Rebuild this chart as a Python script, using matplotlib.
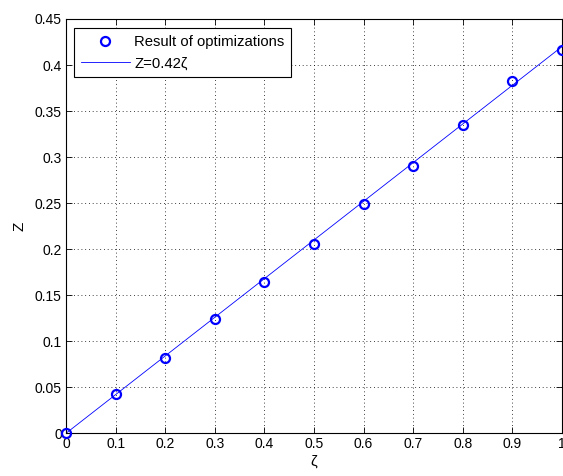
import matplotlib
matplotlib.use("Agg")
import matplotlib.pyplot as plt
import numpy as np

plt.rcParams["font.family"] = ["Liberation Sans", "DejaVu Sans"]

# optimisation results
zeta = [0.0, 0.1, 0.2, 0.3, 0.4, 0.5, 0.6, 0.7, 0.8, 0.9, 1.0]
z_opt = [0.0, 0.0424, 0.0814, 0.1244, 0.1647, 0.2061, 0.249, 0.2899,
         0.3353, 0.3825, 0.4166]
slope = 0.42
x_ticks = [0, 0.1, 0.2, 0.3, 0.4, 0.5, 0.6, 0.7, 0.8, 0.9, 1]
y_ticks = [0, 0.05, 0.1, 0.15, 0.2, 0.25, 0.3, 0.35, 0.4, 0.45]

fig = plt.figure(figsize=(5.63, 4.76), dpi=100)
ax = fig.add_axes([66 / 563, 42.7 / 476, 496 / 563, 414.3 / 476])

ax.plot(zeta, z_opt, "o", color="blue", markerfacecolor="none",
        markersize=6.5, markeredgewidth=1.6, clip_on=False, zorder=3,
        label="Result of optimizations")
line_x = np.array([0.0, 1.0])
ax.plot(line_x, slope * line_x, "-", color="blue", linewidth=0.6,
        label="Z=0.42ζ")

ax.set_xlim(0, 1)
ax.set_ylim(0, 0.45)
ax.set_xticks(x_ticks)
ax.set_yticks(y_ticks)
ax.set_xticklabels([f"{t:g}" for t in x_ticks])
ax.set_yticklabels([f"{t:g}" for t in y_ticks])
ax.tick_params(direction="in", top=True, right=True, length=4, width=0.6,
               labelsize=10, pad=3)
ax.grid(True, linestyle=(0, (1, 3.5)), color="black", linewidth=0.6)
for spine in ax.spines.values():
    spine.set_linewidth(0.8)

ax.set_xlabel("ζ", fontsize=11, labelpad=2)
ax.set_ylabel("Z", fontsize=11, labelpad=6)

leg = ax.legend(loc="upper left", bbox_to_anchor=(0.016, 0.978),
                borderaxespad=0, fancybox=False, framealpha=1,
                edgecolor="black", fontsize=10.7, handlelength=3.3,
                handletextpad=0.3, borderpad=0.45, labelspacing=0.5)
leg.get_frame().set_linewidth(0.8)

fig.savefig("out.png", dpi=100)
